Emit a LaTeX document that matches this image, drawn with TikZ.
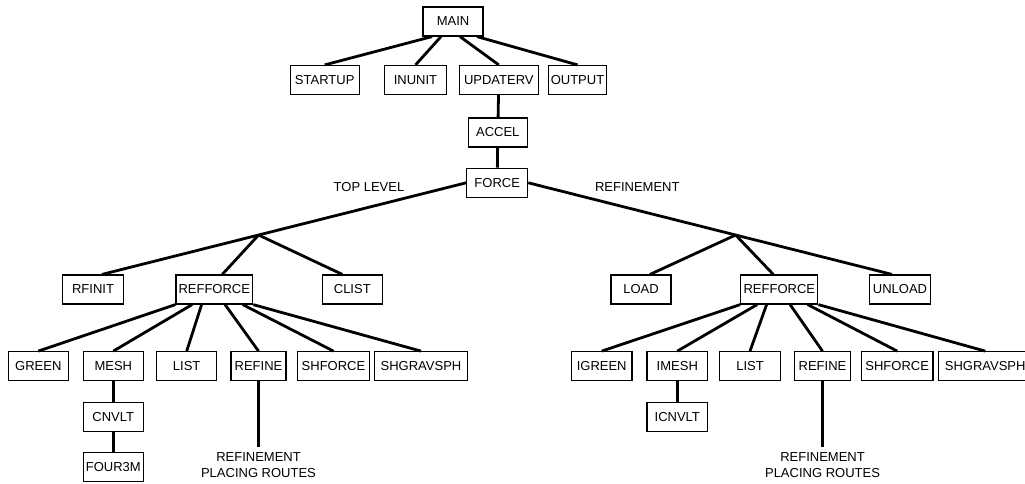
\documentclass[tikz,border=0pt]{standalone}
\usepackage{fontspec}
\setmainfont{Liberation Sans}
\usetikzlibrary{calc}

\begin{document}
\begin{tikzpicture}[x=1pt,y=-1pt,
    font=\fontsize{13}{15.6}\selectfont,
    routine/.style={draw,line width=1.2pt,inner sep=0pt,
        minimum height=29,minimum width=#1},
    call/.style={line width=2.8pt}]
    \useasboundingbox (0,0) rectangle (1025,483);

    % top of the call tree
    \node[routine=60] (main) at (453,21.5) {MAIN};
    \node[routine=69] (startup) at (324.7,80) {STARTUP};
    \node[routine=62.4] (inunit) at (415.5,80) {INUNIT};
    \node[routine=79] (updaterv) at (498.8,80) {UPDATERV};
    \node[routine=58.4] (output) at (577.5,80) {OUTPUT};
    \node[routine=59] (accel) at (497.8,132.5) {ACCEL};
    \node[routine=61] (force) at (497.2,182.8) {FORCE};

    \draw[call] ([xshift=-21]main.south) -- (startup.north);
    \draw[call] ([xshift=-12]main.south) -- (inunit.north);
    \draw[call] ([xshift=7]main.south) -- (updaterv.north);
    \draw[call] ([xshift=24]main.south) -- (output.north);
    \draw[call] (updaterv) -- (accel);
    \draw[call] (accel) -- (force);

    \node (ltop) at (369,187.5) {TOP LEVEL};
    \node (lref) at (637.3,187.5) {REFINEMENT};

    % top level branch
    \node[routine=60.6] (rfinit) at (93,289.5) {RFINIT};
    \node[routine=76.7] (refforcel) at (214.3,289.5) {REFFORCE};
    \node[routine=60] (clist) at (352.3,289.5) {CLIST};

    \coordinate (topjoin) at ($(force.west)!0.57!([xshift=9]rfinit.north)$);
    \draw[call] (force.west) -- ([xshift=9]rfinit.north);
    \draw[call] (topjoin) -- ([xshift=8]refforcel.north);
    \draw[call] (topjoin) -- ([xshift=-10]clist.north);

    \node[routine=60] (green) at (38.3,366.2) {GREEN};
    \node[routine=60] (mesh) at (113.3,366.2) {MESH};
    \node[routine=60] (list) at (186.7,366.2) {LIST};
    \node[routine=55] (refine) at (258.5,366.2) {REFINE};
    \node[routine=71.6] (shforce) at (333.5,366.2) {SHFORCE};
    \node[routine=93.4] (shgravsph) at (421,366.2) {SHGRAVSPH};
    \node[routine=60] (cnvlt) at (113.3,416.8) {CNVLT};
    \node[routine=60] (four3m) at (113.3,467.2) {FOUR3M};
    \node[anchor=north,align=center,inner sep=0pt] (lroutes)
        at (258.5,452.3) {REFINEMENT\\PLACING ROUTES};

    \draw[call] (refforcel.south west) -- (green.north);
    \draw[call] ([xshift=-22.2]refforcel.south) -- (mesh.north);
    \draw[call] ([xshift=-12.7]refforcel.south) -- (list.north);
    \draw[call] ([xshift=10.8]refforcel.south) -- (refine.north);
    \draw[call] ([xshift=28.4]refforcel.south) -- (shforce.north);
    \draw[call] (refforcel.south east) -- (shgravsph.north);
    \draw[call] (mesh) -- (cnvlt);
    \draw[call] (cnvlt) -- (four3m);
    \draw[call] (refine.south) -- ([yshift=5.6]lroutes.north);

    % refinement branch
    \node[routine=60] (load) at (641,289.5) {LOAD};
    \node[routine=77] (refforcer) at (779.3,289.5) {REFFORCE};
    \node[routine=60.6] (unload) at (900,289.5) {UNLOAD};

    \coordinate (refjoin) at ($(force.east)!0.57!([xshift=-8]unload.north)$);
    \draw[call] (force.east) -- ([xshift=-8]unload.north);
    \draw[call] (refjoin) -- ([xshift=9]load.north);
    \draw[call] (refjoin) -- ([xshift=-6]refforcer.north);

    \node[routine=60.7] (igreen) at (601.7,366.2) {IGREEN};
    \node[routine=60.7] (imesh) at (677.3,366.2) {IMESH};
    \node[routine=60.6] (ilist) at (750,366.2) {LIST};
    \node[routine=55.6] (irefine) at (822.5,366.2) {REFINE};
    \node[routine=71.7] (ishforce) at (897.2,366.2) {SHFORCE};
    \node[routine=93.4] (ishgravsph) at (985.2,366.2) {SHGRAVSPH};
    \node[routine=60.7] (icnvlt) at (677.3,416.8) {ICNVLT};
    \node[anchor=north,align=center,inner sep=0pt] (iroutes)
        at (822.5,452.3) {REFINEMENT\\PLACING ROUTES};

    \draw[call] (refforcer.south west) -- (igreen.north);
    \draw[call] ([xshift=-22.2]refforcer.south) -- (imesh.north);
    \draw[call] ([xshift=-12.7]refforcer.south) -- (ilist.north);
    \draw[call] ([xshift=10.8]refforcer.south) -- (irefine.north);
    \draw[call] ([xshift=28.4]refforcer.south) -- (ishforce.north);
    \draw[call] (refforcer.south east) -- (ishgravsph.north);
    \draw[call] (imesh) -- (icnvlt);
    \draw[call] (irefine.south) -- ([yshift=5.6]iroutes.north);
\end{tikzpicture}
\end{document}
